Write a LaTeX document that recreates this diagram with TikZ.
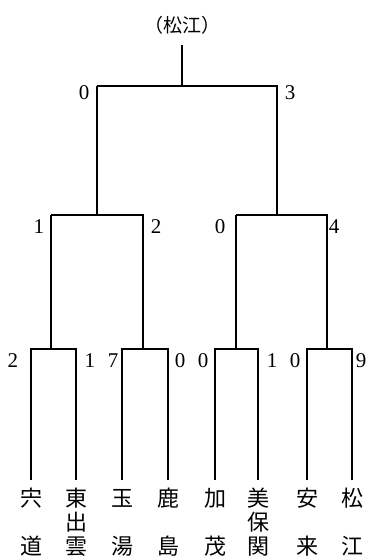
\documentclass[tikz,border=0pt]{standalone}
\usepackage{fontspec}
\setmainfont{Liberation Serif}
\newfontfamily\cjk{Noto Sans CJK JP}
\begin{document}
\begin{tikzpicture}[x=1pt,y=-1pt,
  loseline/.style={line width=1.3pt, line cap=square},
  winline/.style={line width=2.8pt, line cap=square},
  score/.style={font=\fontsize{21}{21}\selectfont, anchor=base, inner sep=0pt},
  team/.style={font=\cjk\fontsize{22}{24}\selectfont, anchor=base, align=center, inner sep=0pt},
  titlestyle/.style={font=\cjk\fontsize{19}{20}\selectfont, anchor=base, inner sep=0pt}]
\useasboundingbox (0,0) rectangle (370,558);
% title
\node[titlestyle] (title) at (182,32) {（松江）};
% junctions
\coordinate (top) at (182,45);
\coordinate (f) at (182,86);
\coordinate (fL) at (97,86);
\coordinate (fR) at (277,86);
\coordinate (sL) at (97,215);
\coordinate (sR) at (277,215);
\coordinate (sLL) at (51,215);
\coordinate (sLR) at (143,215);
\coordinate (sRL) at (236,215);
\coordinate (sRR) at (327,215);
\coordinate (q1) at (51,349);
\coordinate (q2) at (143,349);
\coordinate (q3) at (236,349);
\coordinate (q4) at (327,349);
\coordinate (q1l) at (31,349);
\coordinate (q1r) at (76,349);
\coordinate (q2l) at (122,349);
\coordinate (q2r) at (168,349);
\coordinate (q3l) at (215,349);
\coordinate (q3r) at (258,349);
\coordinate (q4l) at (307,349);
\coordinate (q4r) at (352,349);
\coordinate (t1) at (31,480);
\coordinate (t2) at (76,480);
\coordinate (t3) at (122,480);
\coordinate (t4) at (168,480);
\coordinate (t5) at (215,480);
\coordinate (t6) at (258,480);
\coordinate (t7) at (307,480);
\coordinate (t8) at (352,480);
% losing lines
\draw[loseline] (f) -- (fL);
\draw[loseline] (sL) -- (sLL);
\draw[loseline] (sR) -- (sRL);
\draw[loseline] (q1) -- (q1l) -- (t1);
\draw[loseline] (q2) -- (q2r) -- (t4);
\draw[loseline] (q3) -- (q3l) -- (t5);
\draw[loseline] (q4) -- (q4l) -- (t7);
% winning lines
\draw[winline] (top) -- (f);
\draw[winline] (f) -- (fR) -- (sR);
\draw[winline] (fL) -- (sL);
\draw[winline] (sL) -- (sLR) -- (q2);
\draw[winline] (sR) -- (sRR) -- (q4);
\draw[winline] (sLL) -- (q1);
\draw[winline] (sRL) -- (q3);
\draw[winline] (q1) -- (q1r) -- (t2);
\draw[winline] (q2) -- (q2l) -- (t3);
\draw[winline] (q3) -- (q3r) -- (t6);
\draw[winline] (q4) -- (q4r) -- (t8);
% scores
\node[score] (a0) at (84,99.5) {0};
\node[score] (a3) at (290,99.5) {3};
\node[score] (b1) at (39,233.5) {1};
\node[score] (b2) at (156,233.5) {2};
\node[score] (b0) at (220,233.5) {0};
\node[score] (b4) at (334,233.5) {4};
\node[score] (c1) at (13,367) {2};
\node[score] (c2) at (90,367) {1};
\node[score] (c3) at (113,367) {7};
\node[score] (c4) at (180,367) {0};
\node[score] (c5) at (203,367) {0};
\node[score] (c6) at (272,367) {1};
\node[score] (c7) at (295,367) {0};
\node[score] (c8) at (361,367) {9};
% teams (base anchor = last line baseline)
\node[team] (n1) at (31,554) {宍\\[24pt]道};
\node[team] (n2) at (76,554) {東\\出\\雲};
\node[team] (n3) at (122,554) {玉\\[24pt]湯};
\node[team] (n4) at (168,554) {鹿\\[24pt]島};
\node[team] (n5) at (215,554) {加\\[24pt]茂};
\node[team] (n6) at (258,554) {美\\保\\関};
\node[team] (n7) at (307,554) {安\\[24pt]来};
\node[team] (n8) at (352,554) {松\\[24pt]江};
\end{tikzpicture}
\end{document}
